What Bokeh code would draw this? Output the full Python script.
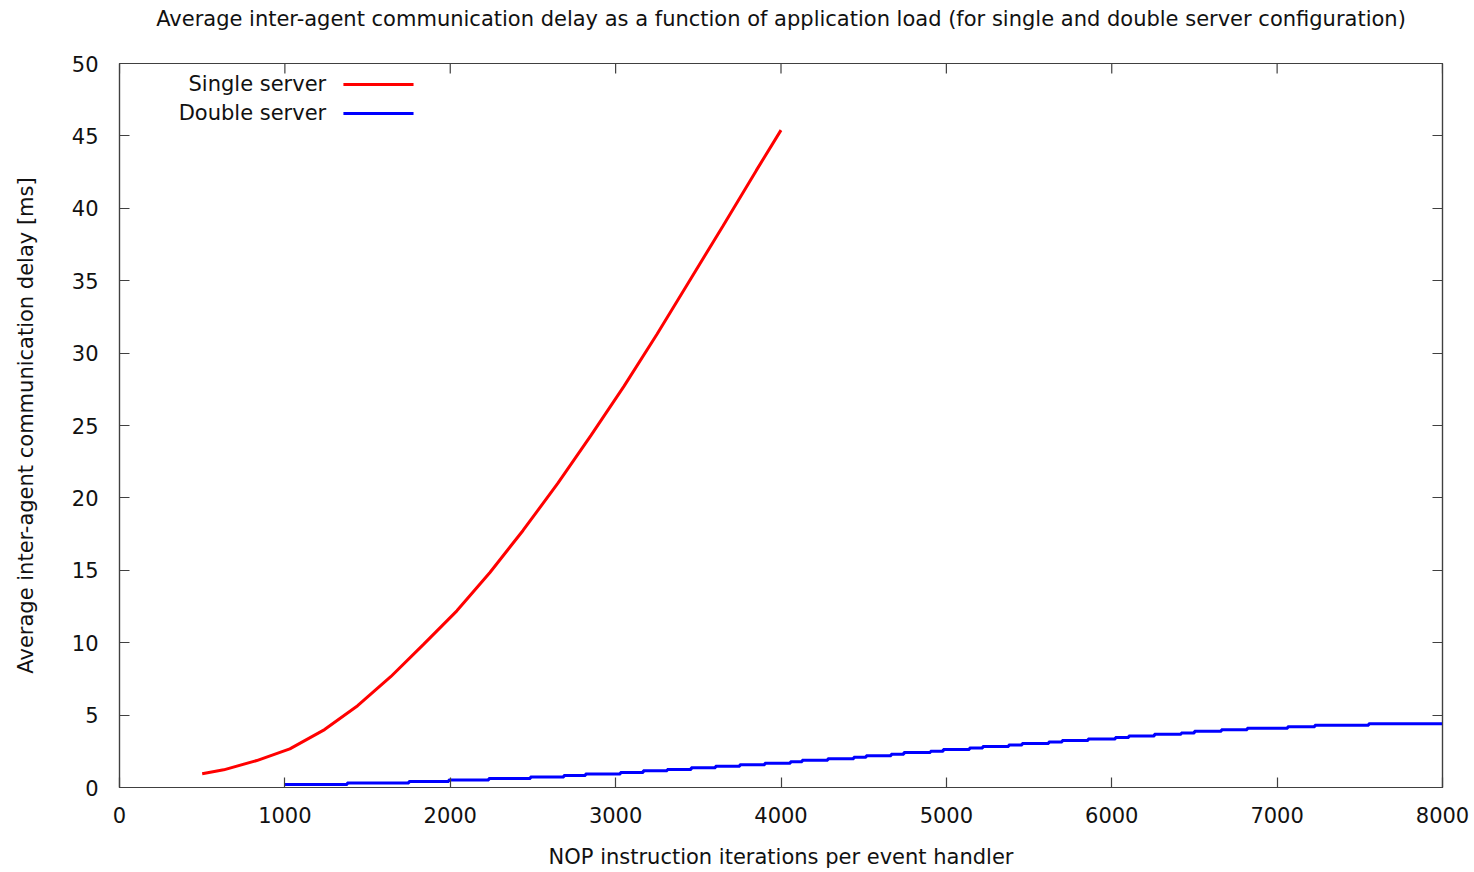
from bokeh.plotting import figure
from bokeh.models import LinearAxis, FixedTicker, Label, Arrow, Range1d, Title
from bokeh.embed import file_html
from bokeh.resources import INLINE

# ---------------- data ----------------
title_text = ("Average inter-agent communication delay as a function of application load "
              "(for single and double server configuration)")
x_label = "NOP instruction iterations per event handler"
y_label = "Average inter-agent communication delay [ms]"

x_ticks = [0, 1000, 2000, 3000, 4000, 5000, 6000, 7000, 8000]
y_ticks = [0, 5, 10, 15, 20, 25, 30, 35, 40, 45, 50]

series_names = ["Single server", "Double server"]

single_x = [500, 630, 830, 1030, 1240, 1440, 1640, 1840, 2040, 2240,
            2440, 2650, 2850, 3050, 3250, 3450, 3650, 3850, 4000]
single_y = [0.95, 1.22, 1.86, 2.67, 4.0, 5.65, 7.65, 9.9, 12.2, 14.85,
            17.75, 21.0, 24.3, 27.7, 31.3, 35.05, 38.8, 42.6, 45.4]

double_x = [1000, 1377, 1750, 1991, 2233, 2485, 2687, 2818, 3029, 3167,
            3312, 3457, 3604, 3751, 3902, 4057, 4128, 4283, 4440, 4515,
            4666, 4743, 4904, 4981, 5140, 5220, 5377, 5458, 5619, 5700,
            5857, 6022, 6103, 6258, 6420, 6500, 6663, 6819, 7064, 7228,
            7554, 8000]
double_y = [0.20, 0.31, 0.41, 0.52, 0.62, 0.73, 0.83, 0.94, 1.04, 1.15,
            1.25, 1.36, 1.46, 1.57, 1.67, 1.78, 1.88, 1.99, 2.09, 2.20,
            2.30, 2.41, 2.51, 2.62, 2.72, 2.83, 2.93, 3.04, 3.14, 3.25,
            3.35, 3.46, 3.56, 3.67, 3.77, 3.88, 3.98, 4.09, 4.19, 4.30,
            4.40, 4.40]

# ---------------- style ----------------
FONT = "DejaVu Sans"
FS = "21px"
AX_COLOR = "#404040"
TXT_COLOR = "#111111"
Y_MAX = 50
TOP_TICK_LEN = 0.69  # ~10 px in data units of the y axis

p = figure(width=1474, height=872, output_backend="svg", toolbar_location=None,
           title=None,
           x_range=Range1d(0, 8000), y_range=Range1d(0, Y_MAX),
           min_border_left=119, min_border_right=32, min_border_top=63,
           min_border_bottom=85, x_axis_location=None, y_axis_location=None)
p.background_fill_color = "white"
p.border_fill_color = "white"
p.xgrid.visible = False
p.ygrid.visible = False
p.outline_line_color = AX_COLOR
p.outline_line_width = 1.2


def style_axis(ax, standoff=12):
    ax.axis_line_color = AX_COLOR
    ax.axis_line_width = 1.2
    ax.major_tick_line_color = AX_COLOR
    ax.major_tick_line_width = 1.2
    ax.major_tick_in = 10
    ax.major_tick_out = 0
    ax.minor_tick_line_color = None
    ax.major_label_text_font = FONT
    ax.major_label_text_font_size = FS
    ax.major_label_text_color = TXT_COLOR
    ax.major_label_standoff = standoff
    ax.axis_label_text_font = FONT
    ax.axis_label_text_font_size = FS
    ax.axis_label_text_font_style = "normal"
    ax.axis_label_text_color = TXT_COLOR


xb = LinearAxis(ticker=FixedTicker(ticks=x_ticks), axis_label=x_label)
style_axis(xb, standoff=19)
xb.axis_label_standoff = 19
p.add_layout(xb, "below")

yl = LinearAxis(ticker=FixedTicker(ticks=y_ticks), axis_label=y_label)
style_axis(yl, standoff=21)
yl.axis_label_standoff = 31
p.add_layout(yl, "left")

yr = LinearAxis(ticker=FixedTicker(ticks=y_ticks),
                major_label_overrides={t: "" for t in y_ticks})
style_axis(yr, standoff=0)
p.add_layout(yr, "right")

# mirrored x ticks along the top border (gnuplot style)
p.segment(x0=x_ticks, y0=[Y_MAX] * len(x_ticks), x1=x_ticks,
          y1=[Y_MAX - TOP_TICK_LEN] * len(x_ticks),
          line_color=AX_COLOR, line_width=1.2)

# ---------------- title (gnuplot places it near the top edge) ----------------
spacer = Title(text=" ", text_font_size="10px", standoff=20)
p.add_layout(spacer, "above")
main_title = Title(text=title_text, align="center", text_font=FONT,
                   text_font_size=FS, text_font_style="normal",
                   text_color=TXT_COLOR, standoff=0)
p.add_layout(main_title, "above")

# ---------------- data lines ----------------
p.line(single_x, single_y, line_color="#ff0000", line_width=3)
p.step(double_x, double_y, mode="after", line_color="#0000ff", line_width=3)

# ---------------- gnuplot-style key (text left, sample right) ----------------
key_colors = ["#ff0000", "#0000ff"]
key_y = [48.55, 46.55]
for name, col, ky in zip(series_names, key_colors, key_y):
    p.add_layout(Label(x=1250, y=ky, text=name, text_align="right",
                       text_baseline="middle", text_font=FONT,
                       text_font_size=FS, text_color=TXT_COLOR))
    p.add_layout(Arrow(x_start=1354, y_start=ky, x_end=1778, y_end=ky,
                       end=None, line_color=col, line_width=3))

open("out.html", "w").write(file_html(p, INLINE))
